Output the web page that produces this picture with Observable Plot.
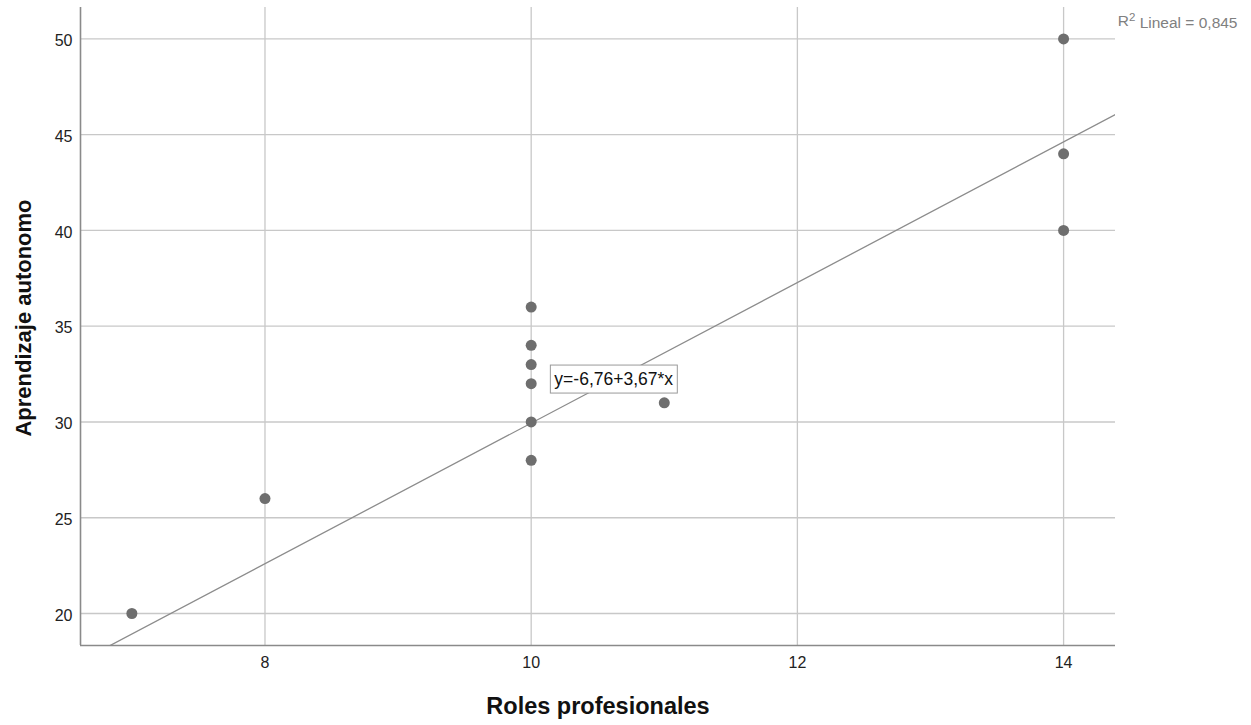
<!DOCTYPE html>
<html>
<head>
<meta charset="utf-8">
<script src="https://cdn.jsdelivr.net/npm/d3@7"></script>
<script src="https://cdn.jsdelivr.net/npm/@observablehq/plot@0.6"></script>
<style>
  html, body { margin: 0; padding: 0; background: #fff; }
  #chart { position: relative; width: 1251px; height: 725px; }
  svg { font-family: "Liberation Sans", Arial, sans-serif; }
</style>
</head>
<body>
<div id="chart"></div>
<script>
// Data
const rolesProfesionales = [7, 8, 10, 10, 10, 10, 10, 10, 11, 14, 14, 14];
const aprendizajeAutonomo = [20, 26, 36, 34, 33, 32, 30, 28, 31, 50, 44, 40];
const xTicks = [8, 10, 12, 14];
const yTicks = [20, 25, 30, 35, 40, 45, 50];
const fitIntercept = -6.76;
const fitSlope = 3.67;
const fitLabel = "y=-6,76+3,67*x";
const fitLabelPos = [10.62, 32.22];
const r2Label = "R² Lineal = 0,845";
const xTitle = "Roles profesionales";
const yTitle = "Aprendizaje autonomo";

const xDomain = [6.614, 14.39];
const yDomain = [18.33, 51.64];

const points = rolesProfesionales.map((x, i) => ({x, y: aprendizajeAutonomo[i]}));
const fitLine = xDomain.map(x => ({x, y: fitIntercept + fitSlope * x}));

const plot = Plot.plot({
  width: 1251,
  height: 725,
  marginLeft: 80,
  marginRight: 136,
  marginTop: 7,
  marginBottom: 80,
  style: {fontFamily: "'Liberation Sans', Arial, sans-serif", fontSize: "16px", color: "#333"},
  x: {domain: xDomain, ticks: xTicks, tickFormat: "d"},
  y: {domain: yDomain, ticks: yTicks, tickFormat: "d"},
  marks: [
    Plot.gridX(xTicks, {stroke: "#c8c8c8", strokeOpacity: 1, strokeWidth: 1.3}),
    Plot.gridY(yTicks, {stroke: "#c8c8c8", strokeOpacity: 1, strokeWidth: 1.3}),
    Plot.ruleX([xDomain[0]], {stroke: "#8a8a8a", strokeWidth: 1.6}),
    Plot.ruleY([yDomain[0]], {stroke: "#8a8a8a", strokeWidth: 1.6}),
    Plot.axisX(xTicks, {tickSize: 0, tickPadding: 11, fontSize: 16, fill: "#222", label: null, tickFormat: "d"}),
    Plot.axisY(yTicks, {tickSize: 0, tickPadding: 8, fontSize: 16, fill: "#222", label: null, tickFormat: "d", dy: 2}),
    Plot.line(fitLine, {x: "x", y: "y", stroke: "#8c8c8c", strokeWidth: 1.3, clip: true}),
    Plot.dot(points, {x: "x", y: "y", r: 5.5, fill: "#6e6e6e", stroke: "none"}),
    Plot.text([fitLabel], {x: fitLabelPos[0], y: fitLabelPos[1], text: d => d, fontSize: 17.5, fill: "#111"}),
    Plot.text([xTitle], {frameAnchor: "bottom", lineAnchor: "middle", textAnchor: "middle", dy: 60.5, text: d => d, fontSize: 23.5, fontWeight: "bold", fill: "#111"}),
    Plot.text([yTitle], {frameAnchor: "left", lineAnchor: "middle", textAnchor: "middle", dx: -57, dy: -8.5, rotate: -90, text: d => d, fontSize: 22, fontWeight: "bold", fill: "#111"}),
    Plot.text([r2Label], {frameAnchor: "top-right", lineAnchor: "middle", textAnchor: "end", dx: 122, dy: 14, text: d => d, fontSize: 15.5, fill: "#808080"})
  ]
});
document.getElementById("chart").appendChild(plot);

// white box with gray border behind the equation label
d3.select(plot).selectAll("text").filter(function() { return this.textContent === fitLabel; }).each(function() {
  const bb = this.getBBox();
  const rect = document.createElementNS("http://www.w3.org/2000/svg", "rect");
  const tr = this.getAttribute("transform");
  if (tr) rect.setAttribute("transform", tr);
  rect.setAttribute("x", bb.x - 4);
  rect.setAttribute("y", bb.y - 4);
  rect.setAttribute("width", bb.width + 8);
  rect.setAttribute("height", bb.height + 8);
  rect.setAttribute("fill", "#fff");
  rect.setAttribute("stroke", "#999");
  rect.setAttribute("stroke-width", "1");
  this.parentNode.insertBefore(rect, this);
});

// render the R² superscript as a real raised "2"
d3.select(plot).selectAll("text").filter(function() { return this.textContent === r2Label; }).each(function() {
  const [before, after] = r2Label.split("²");
  const t = d3.select(this);
  t.text(null);
  t.append("tspan").text(before);
  t.append("tspan").attr("font-size", "11.5px").attr("dy", "-0.45em").text("2");
  t.append("tspan").attr("dy", "0.45em").text(after);
});
</script>
</body>
</html>
